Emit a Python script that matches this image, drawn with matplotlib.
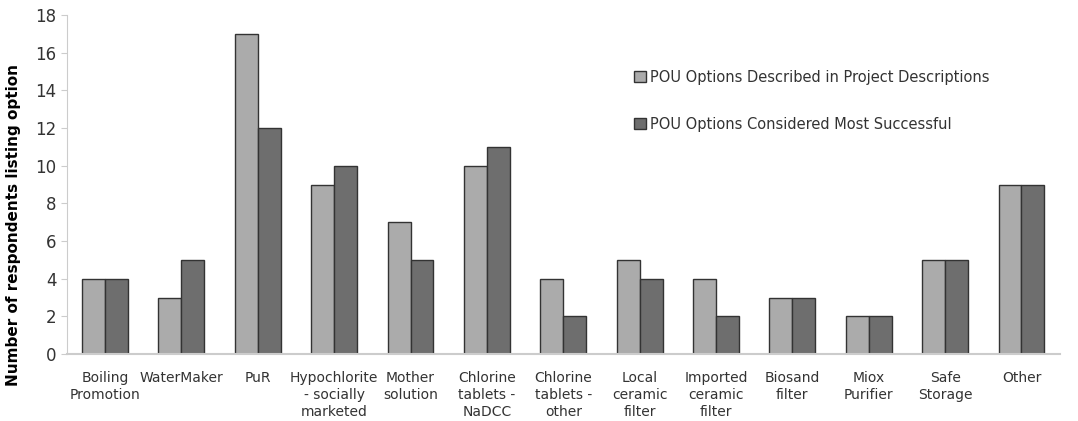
import numpy as np
import matplotlib
matplotlib.use("Agg")
from matplotlib import pyplot as plt

# podatki
categories = ["Boiling\nPromotion", "WaterMaker", "PuR", "Hypochlorite\n- socially\nmarketed",
              "Mother\nsolution", "Chlorine\ntablets -\nNaDCC", "Chlorine\ntablets -\nother",
              "Local\nceramic\nfilter", "Imported\nceramic\nfilter", "Biosand\nfilter",
              "Miox\nPurifier", "Safe\nStorage", "Other"]
described = [4, 3, 17, 9, 7, 10, 4, 5, 4, 3, 2, 5, 9]
successful = [4, 5, 12, 10, 5, 11, 2, 4, 2, 3, 2, 5, 9]
series_names = ["POU Options Described in Project Descriptions",
                "POU Options Considered Most Successful"]

plt.rcParams['font.family'] = ['DejaVu Sans']

fig = plt.figure(figsize=(10.78, 4.21), dpi=100)
ax = fig.add_axes([0.062, 0.159, 0.921, 0.805])

x = np.arange(len(categories))
w = 0.3
ax.bar(x - w / 2, described, w, color="#ababab", edgecolor="#333333", linewidth=1, label=series_names[0])
ax.bar(x + w / 2, successful, w, color="#6e6e6e", edgecolor="#333333", linewidth=1, label=series_names[1])

ax.set_xlim(-0.5, len(categories) - 0.5)
ax.set_ylim(0, 18)
ax.set_yticks(range(0, 19, 2))
ax.set_xticks(x)
ax.set_xticklabels(categories, fontsize=10, color="#333333", linespacing=1.3)
ax.tick_params(axis='x', length=0, pad=12)
ax.tick_params(axis='y', labelsize=12, colors="#333333", length=4, color="#cccccc")

for s in ["top", "right"]:
    ax.spines[s].set_visible(False)
ax.spines["left"].set_color("#cccccc")
ax.spines["bottom"].set_color("#cccccc")
ax.spines["bottom"].set_linewidth(1.5)

ax.set_ylabel("Number of respondents listing option", fontsize=11, fontweight="bold")
ax.yaxis.set_label_coords(-0.046, 0.38)

ax.legend(loc="upper left", bbox_to_anchor=(0.558, 0.878), frameon=False, fontsize=10.5,
          handlelength=0.8, handleheight=0.8, handletextpad=0.3, labelspacing=2.2,
          labelcolor="#333333")

fig.savefig("out.png", dpi=100)
